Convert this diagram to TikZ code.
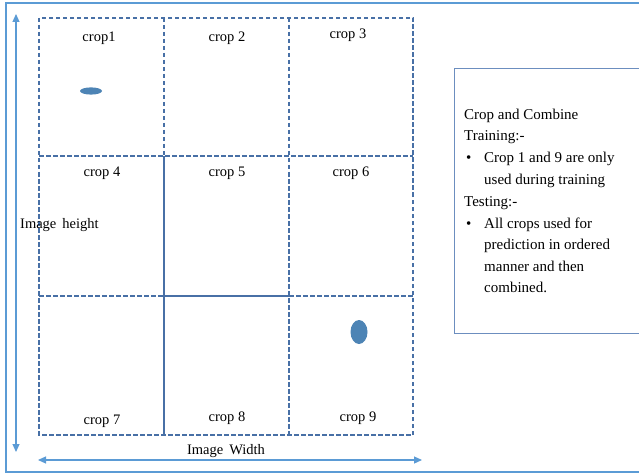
\documentclass[tikz,border=0pt]{standalone}
\usepackage{fontspec}
\setmainfont{Liberation Serif}
\usetikzlibrary{arrows.meta}
\definecolor{gridblue}{HTML}{4870A6}
\definecolor{lightblue}{HTML}{5B9BD5}
\definecolor{boxblue}{HTML}{6C8EBF}
\tikzset{
  cell/.style={draw=gridblue, line width=1.1pt, dash pattern=on 4.5pt off 2.5pt},
  cellsolid/.style={draw=gridblue, line width=1.1pt},
  lab/.style={font=\fontsize{14.5}{16}\selectfont, inner sep=0pt},
  txt/.style={font=\fontsize{15}{17}\selectfont, inner sep=0pt, anchor=base west},
  axis/.style={draw=lightblue, line width=1.2pt, -{Triangle[length=8pt,width=7pt]}},
  blob/.style={fill=lightblue!85!black, draw=none},
}
\begin{document}
\begin{tikzpicture}[x=1pt,y=-1pt]
\useasboundingbox (0,0) rectangle (639,473);
\clip (0,0) rectangle (639,473);
\fill[white] (0,0) rectangle (639,473);
% outer frame
\draw[lightblue, line width=1.5pt] (6,3) rectangle (660,472);
% grid
\draw[cell] (39,18) rectangle (413,435);
\draw[cell] (164,18) -- (164,156);
\draw[cellsolid] (164,156) -- (164,435);
\draw[cell] (289,18) -- (289,435);
\draw[cell] (39,156) -- (413,156);
\draw[cell] (39,296) -- (164,296);
\draw[cellsolid] (164,296) -- (289,296);
\draw[cell] (289,296) -- (413,296);
% labels
\node[lab] (l1) at (99,38) {crop1};
\node[lab] (l2) at (227,38) {crop 2};
\node[lab] (l3) at (348,35) {crop 3};
\node[lab] (l4) at (102,173) {crop 4};
\node[lab] (l5) at (227,173) {crop 5};
\node[lab] (l6) at (351,173) {crop 6};
\node[lab] (l7) at (102,421) {crop 7};
\node[lab] (l8) at (227,418) {crop 8};
\node[lab] (l9) at (358,418) {crop 9};
% blobs
\fill[blob] (91,91) ellipse [x radius=11, y radius=3.6];
\fill[blob] (359,332) ellipse [x radius=8.5, y radius=12];
% axes
\coordinate (vt) at (16,452);
\coordinate (vb) at (16,14);
\draw[axis] (16,30) -- (vb);
\draw[axis] (16,30) -- (vt);
\coordinate (hl) at (38,460);
\coordinate (hr) at (422,460);
\draw[axis] (200,460) -- (hl);
\draw[axis] (200,460) -- (hr);
\node[lab, anchor=west] (ih) at (20,225) {Image\, height};
\node[lab] (iw) at (226,451) {Image\, Width};
% text box
\draw[boxblue, line width=1pt] (454,69) rectangle (660,333);
\node[txt] (t1) at (464,120) {Crop and Combine};
\node[txt] (t2) at (464,141) {Training:-};
\node[txt] (b1) at (466,163) {\textbullet};
\node[txt] (t3) at (484,163) {Crop 1 and 9 are only};
\node[txt] (t4) at (484,185) {used during training};
\node[txt] (t5) at (464,206) {Testing:-};
\node[txt] (b2) at (466,228) {\textbullet};
\node[txt] (t6) at (484,228) {All crops used for};
\node[txt] (t7) at (484,249) {prediction in ordered};
\node[txt] (t8) at (484,271) {manner and then};
\node[txt] (t9) at (484,292) {combined.};
\end{tikzpicture}
\end{document}
